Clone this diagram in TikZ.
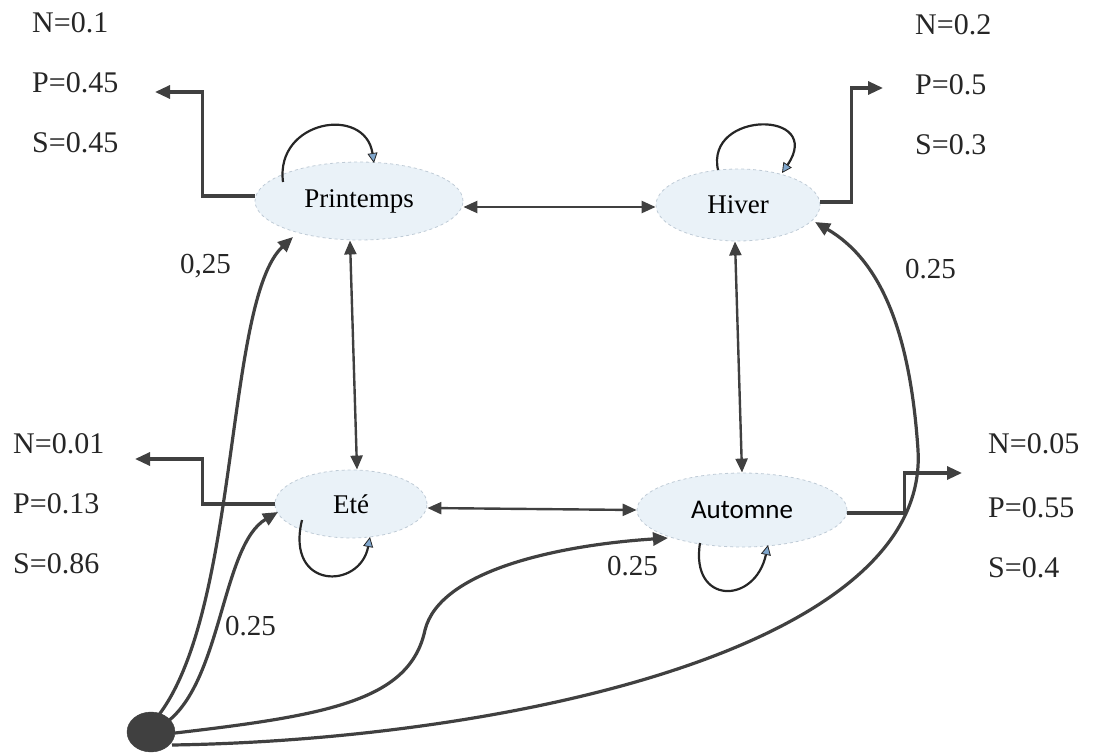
\documentclass[tikz,border=0pt]{standalone}
\usepackage{fontspec}
\setmainfont{Liberation Serif}
\newfontfamily\autofont{Carlito}
\usetikzlibrary{arrows.meta,shapes.geometric}
\definecolor{edgec}{HTML}{404040}
\definecolor{ellfill}{HTML}{EAF2F8}
\definecolor{elldraw}{HTML}{BFCBD6}
\definecolor{loophead}{HTML}{7FA6CC}
\tikzset{
  state/.style={ellipse, fill=ellfill, draw=elldraw, dashed, line width=0.8pt, inner sep=0pt, font=\fontsize{27}{30}\selectfont},
  link/.style={draw=edgec, line width=2.4pt, {Triangle[length=14pt,width=12pt]}-{Triangle[length=14pt,width=12pt]}},
  outlink/.style={draw=edgec, line width=3.2pt, -{Triangle[length=15pt,width=13pt]}},
  curvelink/.style={draw=edgec, line width=3.2pt, -{Triangle[length=15pt,width=13pt]}},
  selfloop/.style={draw=black!85, line width=2.2pt, -{Triangle[length=10pt,width=10pt,fill=loophead,line width=0.8pt]}},
  prob/.style={anchor=base west, inner sep=0pt, font=\fontsize{30}{32}\selectfont, text=black!85},
  wlabel/.style={anchor=base west, inner sep=0pt, font=\fontsize{29}{32}\selectfont, text=black!85}
}
\begin{document}
\begin{tikzpicture}[x=1pt,y=-1pt]
\useasboundingbox (0,0) rectangle (1110,754);
% states
\node[state, minimum width=208pt, minimum height=78pt] (P) at (359,201) {Printemps};
\node[state, minimum width=164pt, minimum height=72pt] (H) at (738,205) {Hiver};
\node[state, minimum width=152pt, minimum height=68pt] (E) at (351,504) {Eté};
\node[state, minimum width=210pt, minimum height=74pt, font=\autofont\fontsize{27}{30}\selectfont] (A) at (742,510) {Automne};
\node[ellipse, fill=edgec, draw=edgec, minimum width=48pt, minimum height=40pt, inner sep=0pt] (D) at (151,732) {};
% probability texts
\node[prob] (pn) at (32,33) {N=0.1};
\node[prob] (pp) at (32,93) {P=0.45};
\node[prob] (ps) at (32,153) {S=0.45};
\node[prob] (hn) at (915,35) {N=0.2};
\node[prob] (hp) at (915,95) {P=0.5};
\node[prob] (hs) at (915,155) {S=0.3};
\node[prob] (en) at (13,453) {N=0.01};
\node[prob] (ep) at (13,513) {P=0.13};
\node[prob] (es) at (13,573) {S=0.86};
\node[prob] (an) at (988,453) {N=0.05};
\node[prob] (ap) at (988,517) {P=0.55};
\node[prob] (as) at (988,577) {S=0.4};
% weight labels
\node[wlabel] (w1) at (180,273) {0,25};
\node[wlabel] (w2) at (905,278) {0.25};
\node[wlabel] (w3) at (607,575) {0.25};
\node[wlabel] (w4) at (225,635) {0.25};
% output connector ends
\coordinate (pout) at (155,92);
\coordinate (hout) at (883,88);
\coordinate (eout) at (135,459);
\coordinate (aout) at (962,473);
% transitions between states
\draw[link] ([yshift=-6pt]P.east) -- ([yshift=-2pt]H.west);
\draw[link] ([yshift=-4pt]E.east) -- (A.west);
\draw[link] ([xshift=-9pt]P.south) -- ([xshift=6pt]E.north);
\draw[link] ([xshift=-3pt]H.south) -- (A.north);
% self loops
\draw[selfloop] ([shift={(-76,-19)}]P.center) .. controls +(-8,-62) and +(-9,-58) .. ([shift={(15,-38)}]P.center);
\draw[selfloop] ([shift={(-20,-35)}]H.center) .. controls +(-13,-60) and +(43,-63) .. ([shift={(44,-32)}]H.center);
\draw[selfloop] ([shift={(-49,16)}]E.center) .. controls +(-17,70) and +(-10,53) .. ([shift={(19,33)}]E.center);
\draw[selfloop] ([shift={(-42,33)}]A.center) .. controls +(-10,62) and +(-13,60) .. ([shift={(26,35)}]A.center);
% outputs
\draw[outlink] ([yshift=5pt]P.west) -- ++(-52,0) |- (pout);
\draw[outlink] ([yshift=3pt]H.east) -- ++(31,0) |- (hout);
\draw[outlink] (E.west) -- ++(-72,0) |- (eout);
\draw[outlink] ([yshift=-3pt]A.east) -- ++(57,0) |- (aout);
% curves from the initial dot
\draw[curvelink] ([shift={(7,-16)}]D.center) .. controls (240,610) and (225,300) .. ([shift={(-66,36)}]P.center);
\draw[curvelink] ([shift={(16,-10)}]D.center) .. controls (222,680) and (222,545) .. ([shift={(-73,8)}]E.center);
\draw[curvelink] ([shift={(24,1)}]D.center) .. controls (330,715) and (410,700) .. (425,630) .. controls (440,570) and (560,545) .. ([shift={(-74,28)}]A.center);
\draw[curvelink] ([shift={(21,13)}]D.center) .. controls (500,740) and (930,650) .. (918,450) .. controls (910,330) and (880,260) .. ([shift={(77,17)}]H.center);
\end{tikzpicture}
\end{document}
